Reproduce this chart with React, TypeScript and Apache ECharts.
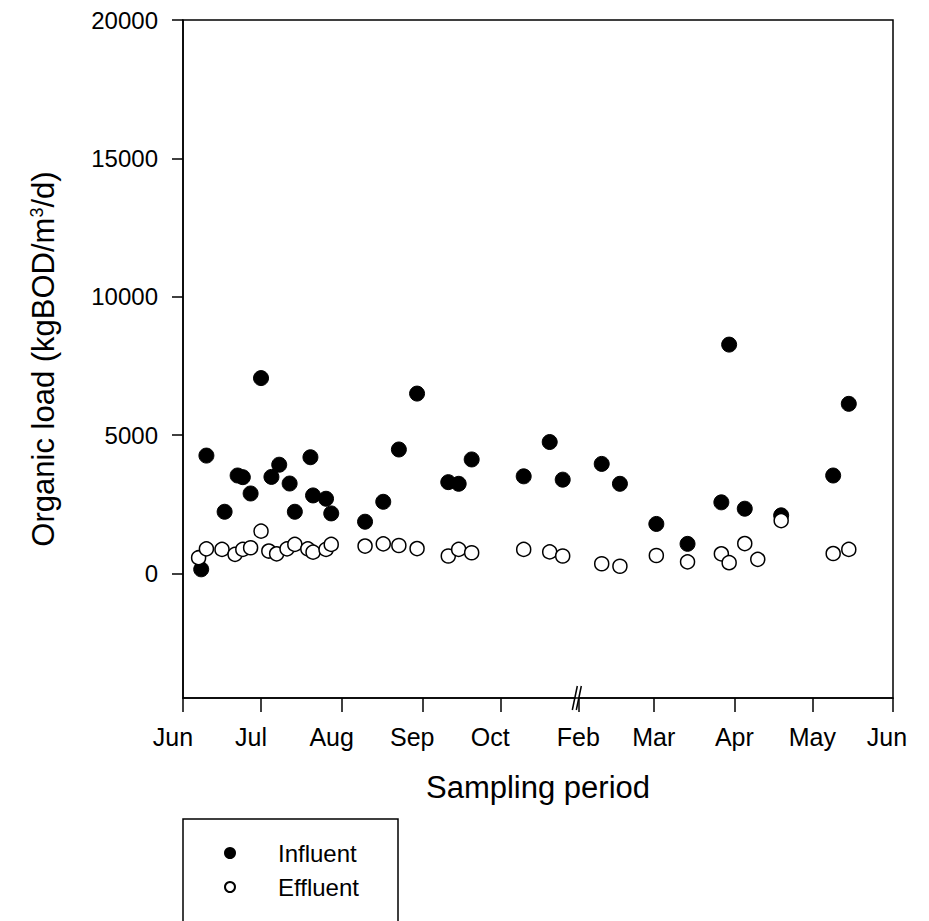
import { useEffect, useRef } from "react";
import * as echarts from "echarts";

// Broken time axis: days counted from 1 June, with the Oct–Feb gap collapsed
const monthLabels = ["Jun", "Jul", "Aug", "Sep", "Oct", "Feb", "Mar", "Apr", "May", "Jun"];
const monthTickDays = [0, 30, 61, 92, 122, 152, 181, 212, 242, 273];
const breakDay = 152;

const yTicks = [0, 5000, 10000, 15000, 20000];
const yMin = -4500;
const yMax = 20000;

// Influent organic load (kgBOD/m3/d)
const influentDays = [
  7, 9, 16, 21, 23, 26, 30, 34, 37, 41, 43, 49, 50, 55, 57, 70, 77, 83, 90, 102, 106, 111,
  131, 141, 146, 161, 168, 182, 194, 207, 210, 216, 230, 250, 256,
];
const influentLoad = [
  150, 4260, 2230, 3540, 3480, 2890, 7060, 3490, 3930, 3250, 2230, 4200, 2820, 2700, 2170,
  1870, 2590, 4480, 6500, 3300, 3240, 4120, 3510, 4750, 3390, 3960, 3240, 1790, 1070, 2570,
  8270, 2340, 2100, 3540, 6130,
];

// Effluent organic load (kgBOD/m3/d)
const effluentDays = [
  6, 9, 15, 20, 23, 26, 30, 33, 36, 40, 43, 48, 50, 55, 57, 70, 77, 83, 90, 102, 106, 111,
  131, 141, 146, 161, 168, 182, 194, 207, 210, 216, 221, 230, 250, 256,
];
const effluentLoad = [
  570, 890, 870, 690, 870, 930, 1530, 810, 710, 890, 1050, 890, 770, 870, 1050, 990, 1070,
  1010, 900, 630, 870, 750, 870, 780, 630, 350, 260, 650, 420, 710, 390, 1080, 510, 1910,
  720, 870,
];

const FONT = 'Arial, "Liberation Sans", sans-serif';

export default function App() {
  const ref = useRef<HTMLDivElement>(null);

  useEffect(() => {
    if (!ref.current) return;
    const chart = echarts.init(ref.current, null, { renderer: "svg" });

    const influent = influentDays.map((d, i) => [d, influentLoad[i]]);
    const effluent = effluentDays.map((d, i) => [d, effluentLoad[i]]);

    const monthText = (v: number) => {
      const i = monthTickDays.indexOf(v);
      if (i < 0) return "";
      // labels of the first segment sit slightly left of their ticks
      if (monthTickDays[i] < breakDay) return `{early|${monthLabels[i]}}`;
      if (i === monthTickDays.length - 1) return `{last|${monthLabels[i]}}`;
      return `{late|${monthLabels[i]}}`;
    };
    const monthRich = (padRight: number) => ({
      fontSize: 25,
      fontFamily: FONT,
      color: "#000",
      padding: [0, padRight, 0, 0],
    });

    chart.setOption({
      animation: false,
      backgroundColor: "#fff",
      textStyle: { fontFamily: FONT, color: "#000" },
      grid: {
        left: 183,
        right: 36,
        top: 20,
        bottom: 223,
        show: true,
        borderColor: "#000",
        borderWidth: 1.5,
        backgroundColor: "transparent",
      },
      xAxis: {
        type: "value",
        min: monthTickDays[0],
        max: monthTickDays[monthTickDays.length - 1],
        name: "Sampling period",
        nameLocation: "middle",
        nameGap: 74,
        nameTextStyle: { fontSize: 31, fontFamily: FONT, color: "#000" },
        splitLine: { show: false },
        axisLine: { show: true, onZero: false, lineStyle: { color: "#000", width: 1.5 } },
        axisTick: {
          show: true,
          length: 14,
          customValues: monthTickDays,
          lineStyle: { color: "#000", width: 1.5 },
        },
        axisLabel: {
          customValues: monthTickDays,
          margin: 26,
          fontSize: 25,
          fontFamily: FONT,
          color: "#000",
          formatter: monthText,
          rich: {
            early: monthRich(20),
            late: monthRich(0),
            last: monthRich(12),
          },
        },
      },
      yAxis: {
        type: "value",
        min: yMin,
        max: yMax,
        name: "Organic load (kgBOD/m{sup|3}/d)",
        nameLocation: "middle",
        nameRotate: 90,
        nameGap: 124,
        nameTextStyle: {
          fontSize: 31,
          fontFamily: FONT,
          color: "#000",
          rich: {
            sup: {
              fontSize: 18,
              fontFamily: FONT,
              color: "#000",
              lineHeight: 18,
              padding: [0, 0, 14, 0],
            },
          },
        },
        splitLine: { show: false },
        axisLine: { show: true, onZero: false, lineStyle: { color: "#000", width: 1.5 } },
        axisTick: {
          show: true,
          length: 11,
          customValues: yTicks,
          lineStyle: { color: "#000", width: 1.5 },
        },
        axisLabel: {
          customValues: yTicks,
          margin: 25,
          fontSize: 24,
          fontFamily: FONT,
          color: "#000",
          formatter: (v: number) => String(v),
        },
      },
      legend: {
        orient: "vertical",
        left: 224,
        top: 841,
        padding: 0,
        itemWidth: 10,
        itemHeight: 10,
        itemGap: 10,
        icon: "circle",
        textStyle: {
          fontSize: 24,
          lineHeight: 24,
          fontFamily: FONT,
          color: "#000",
          padding: [0, 0, 0, 38],
        },
        data: ["Influent", "Effluent"],
      },
      series: [
        {
          name: "Influent",
          type: "scatter",
          symbol: "circle",
          symbolSize: 15,
          itemStyle: { color: "#000", borderColor: "#000", borderWidth: 1, opacity: 1 },
          data: influent,
        },
        {
          name: "Effluent",
          type: "scatter",
          symbol: "circle",
          symbolSize: 14,
          itemStyle: { color: "#fff", borderColor: "#000", borderWidth: 1.5, opacity: 1 },
          data: effluent,
        },
      ],
    });

    const graphics: any[] = [
      // legend frame, running off the bottom of the page
      {
        type: "rect",
        silent: true,
        shape: { x: 183, y: 819, width: 215, height: 200 },
        style: { fill: "none", stroke: "#000", lineWidth: 1.5 },
      },
    ];

    // "//" break marker on the time axis where October jumps to February
    const p = chart.convertToPixel({ gridIndex: 0 }, [breakDay, yMin]) as number[];
    if (p) {
      const [bx, by] = p;
      graphics.push({
        type: "group",
        silent: true,
        children: [
          {
            type: "rect",
            shape: { x: bx - 3, y: by - 1.5, width: 4, height: 3 },
            style: { fill: "#fff" },
          },
          {
            type: "line",
            shape: { x1: bx - 6, y1: by + 12, x2: bx - 1, y2: by - 12 },
            style: { stroke: "#000", lineWidth: 1.5 },
          },
          {
            type: "line",
            shape: { x1: bx - 2, y1: by + 12, x2: bx + 3, y2: by - 12 },
            style: { stroke: "#000", lineWidth: 1.5 },
          },
        ],
      });
    }
    chart.setOption({ graphic: graphics });

    return () => chart.dispose();
  }, []);

  return (
    <div
      ref={ref}
      style={{
        position: "fixed",
        left: 0,
        top: 0,
        width: 929,
        height: 921,
        background: "#fff",
      }}
    />
  );
}
